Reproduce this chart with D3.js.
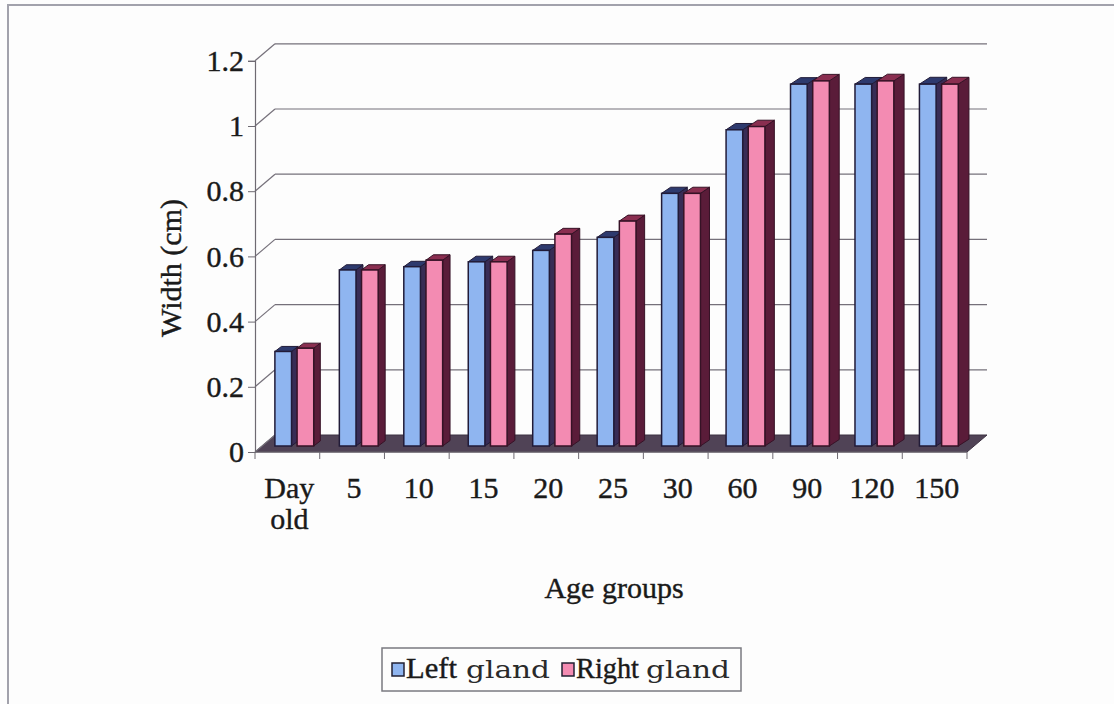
<!DOCTYPE html>
<html>
<head>
<meta charset="utf-8">
<script src="https://cdn.jsdelivr.net/npm/d3@7"></script>
<style>
  html, body { margin: 0; padding: 0; background: #fdfdfd; }
  svg { display: block; }
</style>
</head>
<body>
<svg id="chart" width="1114" height="704"></svg>
<script>
// Gland width by age group
const categories = ["Day old", "5", "10", "15", "20", "25", "30", "60", "90", "120", "150"];
const seriesNames = ["Left gland", "Right gland"];
const leftGland  = [0.29, 0.54, 0.55, 0.565, 0.60, 0.64, 0.775, 0.97, 1.11, 1.11, 1.11];
const rightGland = [0.30, 0.54, 0.57, 0.565, 0.65, 0.69, 0.775, 0.98, 1.12, 1.12, 1.11];
const yTicks = [0, 0.2, 0.4, 0.6, 0.8, 1, 1.2];
const yTickLabels = ["0", "0.2", "0.4", "0.6", "0.8", "1", "1.2"];

const svg = d3.select("#chart");
const serif = "'Liberation Serif', 'Times New Roman', serif";
const ink = "#1a1a1a";

// outer frame
svg.append("rect").attr("x", 0).attr("y", 0).attr("width", 1114).attr("height", 704).attr("fill", "#fdfdfd");
svg.append("path").attr("d", "M8,704 L8,5 L1114,5")
  .attr("fill", "none").attr("stroke", "#a2a2ac").attr("stroke-width", 2);

// plot geometry: front plane and the depth vector of the walls
const x0Left = 255, x0Right = 967, yBase = 452;
const wallD = { dx: 20, dy: -17 };

const x0 = d3.scaleBand().domain(categories).range([x0Left, x0Right]).paddingInner(0.4).paddingOuter(0.2);
const x1 = d3.scaleBand().domain(seriesNames).range([0, x0.bandwidth()]).paddingInner(0.25);
const y = d3.scaleLinear().domain([0, 1.2]).range([yBase, yBase - 1.2 * 326]);

const colors = {
  "Left gland":  { front: "#8fb5f0", side: "#382c55", top: "#2e3a6e", edge: "#211b38" },
  "Right gland": { front: "#f38bb2", side: "#5a1c39", top: "#8a2e50", edge: "#361226" }
};

// floor
svg.append("polygon")
  .attr("points", [[x0Left, yBase], [x0Right, yBase], [x0Right + wallD.dx, yBase + wallD.dy], [x0Left + wallD.dx, yBase + wallD.dy]].map(p => p.join(",")).join(" "))
  .attr("fill", "#504356").attr("stroke", "#3d3242").attr("stroke-width", 1);

// gridlines on back wall and side wall
const grid = svg.append("g").attr("stroke", "#75707a").attr("stroke-width", 1.2).attr("fill", "none");
yTicks.filter(v => v > 0).forEach(v => {
  grid.append("line")
    .attr("x1", x0Left + wallD.dx).attr("x2", x0Right + wallD.dx)
    .attr("y1", y(v) + wallD.dy).attr("y2", y(v) + wallD.dy);
});
yTicks.forEach(v => {
  grid.append("line")
    .attr("x1", x0Left).attr("x2", x0Left + wallD.dx)
    .attr("y1", y(v)).attr("y2", y(v) + wallD.dy);
});

// vertical value axis
const yAxis = d3.axisLeft(y).tickValues(yTicks).tickFormat((d, i) => yTickLabels[i]).tickSize(7).tickPadding(4);
const gy = svg.append("g").attr("transform", `translate(${x0Left},0)`).call(yAxis);
gy.select(".domain").attr("stroke", "#6e6a72").attr("stroke-width", 1.2);
gy.selectAll(".tick line").attr("stroke", "#6e6a72");
gy.selectAll(".tick text").attr("font-family", serif).attr("font-size", 30).attr("fill", ink)
  .attr("stroke", ink).attr("stroke-width", 0.4);

// category axis with ticks at category boundaries
const boundaries = d3.range(categories.length + 1).map(i => x0Left + i * x0.step());
const gx = svg.append("g");
gx.append("line").attr("x1", x0Left).attr("x2", x0Right).attr("y1", yBase).attr("y2", yBase)
  .attr("stroke", "#6e6a72").attr("stroke-width", 1.2);
gx.selectAll("line.tk").data(boundaries).join("line").attr("class", "tk")
  .attr("x1", d => d).attr("x2", d => d).attr("y1", yBase).attr("y2", yBase + 7)
  .attr("stroke", "#6e6a72");
const catLabels = gx.selectAll("text.cat").data(categories).join("text").attr("class", "cat")
  .attr("x", d => x0(d) + x0.bandwidth() / 2 + 2)
  .attr("y", 498)
  .attr("text-anchor", "middle")
  .attr("font-family", serif).attr("font-size", 30).attr("fill", ink)
  .attr("stroke", ink).attr("stroke-width", 0.4);
catLabels.each(function (d) {
  const parts = d.split(" ");
  const t = d3.select(this);
  parts.forEach((p, i) => {
    t.append("tspan").attr("x", t.attr("x")).attr("dy", i === 0 ? 0 : 31).text(p);
  });
});

// 3D columns
const bars = svg.append("g");
categories.forEach((cat, ci) => {
  const vals = [leftGland[ci], rightGland[ci]];
  const t = (x0(cat) - x0Left) / (x0Right - x0Left);
  const off = { dx: 7 - 3 * t, dy: -6 };          // front face sits inside the depth
  const bd = { dx: 6.5 + 4.5 * t, dy: -5 - 2 * t }; // visible column depth
  seriesNames.forEach((s, si) => {
    const v = vals[si];
    const c = colors[s];
    const xl = x0(cat) + x1(s) + off.dx;
    const xr = xl + x1.bandwidth();
    const yt = y(v) + off.dy;
    const yb = y(0) + off.dy;
    const g = bars.append("g");
    // right side face
    g.append("polygon")
      .attr("points", [[xr, yb], [xr, yt], [xr + bd.dx, yt + bd.dy], [xr + bd.dx, yb + bd.dy]].map(p => p.join(",")).join(" "))
      .attr("fill", c.side).attr("stroke", c.edge).attr("stroke-width", 1);
    // top face
    g.append("polygon")
      .attr("points", [[xl, yt], [xr, yt], [xr + bd.dx, yt + bd.dy], [xl + bd.dx, yt + bd.dy]].map(p => p.join(",")).join(" "))
      .attr("fill", c.top).attr("stroke", c.edge).attr("stroke-width", 1);
    // front face
    g.append("rect")
      .attr("x", xl).attr("y", yt).attr("width", xr - xl).attr("height", yb - yt)
      .attr("fill", c.front).attr("stroke", c.edge).attr("stroke-width", 1.5);
  });
});

// axis titles
svg.append("text").attr("x", 614).attr("y", 598).attr("text-anchor", "middle")
  .attr("font-family", serif).attr("font-size", 30).attr("fill", ink)
  .attr("stroke", ink).attr("stroke-width", 0.4).text("Age groups");
svg.append("text").attr("transform", "translate(181,268) rotate(-90)").attr("text-anchor", "middle")
  .attr("font-family", serif).attr("font-size", 30).attr("fill", ink)
  .attr("stroke", ink).attr("stroke-width", 0.4).text("Width (cm)");

// legend
const lg = svg.append("g");
lg.append("rect").attr("x", 382).attr("y", 648).attr("width", 359).attr("height", 43)
  .attr("fill", "#fdfdfd").attr("stroke", "#7a7a80").attr("stroke-width", 1.5);
const legendItems = [
  { name: seriesNames[0], main: "Left", mainX: 406, mainW: 51, subX: 466, boxX: 392 },
  { name: seriesNames[1], main: "Right", mainX: 576, mainW: 63, subX: 646, boxX: 562 }
];
legendItems.forEach(it => {
  lg.append("rect").attr("x", it.boxX).attr("y", 663).attr("width", 12).attr("height", 13)
    .attr("fill", colors[it.name].front).attr("stroke", "#222033").attr("stroke-width", 1.5);
  lg.append("text").attr("x", it.mainX).attr("y", 678)
    .attr("font-family", serif).attr("font-size", 29).attr("fill", ink)
    .attr("stroke", ink).attr("stroke-width", 0.4)
    .attr("textLength", it.mainW).attr("lengthAdjust", "spacingAndGlyphs").text(it.main);
  lg.append("text").attr("x", it.subX).attr("y", 678)
    .attr("font-family", "'DejaVu Serif', serif").attr("font-size", 24).attr("fill", "#2a2a2a")
    .attr("textLength", 84).attr("lengthAdjust", "spacingAndGlyphs").text("gland");
});
</script>
</body>
</html>
